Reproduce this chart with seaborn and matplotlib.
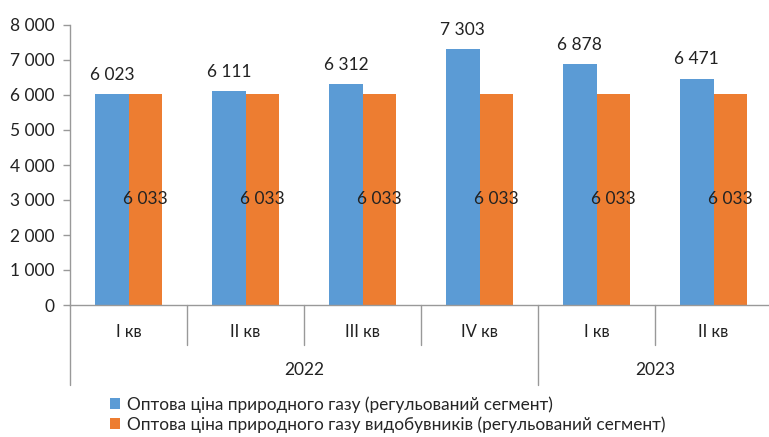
import matplotlib
matplotlib.use("Agg")
import matplotlib.pyplot as plt
import seaborn as sns
import pandas as pd
from matplotlib.ticker import FuncFormatter
from matplotlib.patches import Patch

quarters = ["I кв", "II кв", "III кв", "IV кв", "I кв", "II кв"]
years = ["2022", "2022", "2022", "2022", "2023", "2023"]
series_names = ["Оптова ціна природного газу (регульований сегмент)",
                "Оптова ціна природного газу видобувників (регульований сегмент)"]
regulated = [6023, 6111, 6312, 7303, 6878, 6471]
producers = [6033, 6033, 6033, 6033, 6033, 6033]
colors = ["#5B9BD5", "#ED7D31"]

sns.set_theme(style="white")
plt.rcParams["font.family"] = ["Lato", "DejaVu Sans"]

rows = []
for i in range(len(quarters)):
    rows.append({"pos": i, "series": series_names[0], "value": regulated[i]})
    rows.append({"pos": i, "series": series_names[1], "value": producers[i]})
df = pd.DataFrame(rows)

fig = plt.figure(figsize=(7.69, 4.37), dpi=100)
ax = fig.add_axes([70/769, 132/437, 702/769, 280/437])

sns.barplot(data=df, x="pos", y="value", hue="series", palette=colors,
            width=0.57, gap=0, saturation=1, ax=ax, legend=False, linewidth=0)

ax.set_xlim(-0.5, 5.5)
ax.set_ylim(0, 8000)
ax.set_yticks(range(0, 8001, 1000))
ax.yaxis.set_major_formatter(FuncFormatter(lambda v, p: f"{int(v):,}".replace(",", " ")))
ax.tick_params(axis="y", length=5, width=1, color="#999999", labelsize=12.5, pad=6, labelcolor="#222222", left=True)
ax.set_xticks([])
ax.set_xlabel("")
ax.set_ylabel("")
for s in ["top", "right"]:
    ax.spines[s].set_visible(False)
for s in ["left", "bottom"]:
    ax.spines[s].set_color("#999999")
    ax.spines[s].set_linewidth(1)

# value labels
blue_bars = ax.containers[0]
orange_bars = ax.containers[1]
for bar, v in zip(blue_bars, regulated):
    ax.annotate(f"{v:,}".replace(",", " "), (bar.get_x() + bar.get_width()/2, v),
                xytext=(0, 8), textcoords="offset points", ha="center", va="bottom",
                fontsize=12.5, color="#222222")
for bar, v in zip(orange_bars, producers):
    ax.text(bar.get_x() + bar.get_width()/2, v/2, f"{v:,}".replace(",", " "),
            ha="center", va="center", fontsize=12.5, color="#222222")

# multi-level category axis
trans = ax.get_xaxis_transform()
lc = "#999999"
for b in [0.5, 1.5, 2.5, 4.5]:
    ax.plot([b, b], [0, -0.143], transform=trans, color=lc, lw=1, clip_on=False)
for b in [-0.5, 3.5]:
    ax.plot([b, b], [0, -0.286], transform=trans, color=lc, lw=1, clip_on=False)
for i, q in enumerate(quarters):
    ax.text(i, -0.096, q, transform=trans, ha="center", va="center", fontsize=12, color="#222222")
year_groups = {}
for i, y in enumerate(years):
    year_groups.setdefault(y, []).append(i)
for y, idx in year_groups.items():
    ax.text((idx[0] + idx[-1]) / 2, -0.232, y, transform=trans,
            ha="center", va="center", fontsize=12.5, color="#222222")

handles = [Patch(facecolor=c, edgecolor="none") for c in colors]
fig.legend(handles, series_names, loc="upper left", bbox_to_anchor=(110/769, 1 - 396/437),
           frameon=False, fontsize=12.4, handlelength=0.6, handleheight=0.6,
           handletextpad=0.4, labelspacing=0.2, borderaxespad=0, borderpad=0)

fig.savefig("out.png", dpi=100)
